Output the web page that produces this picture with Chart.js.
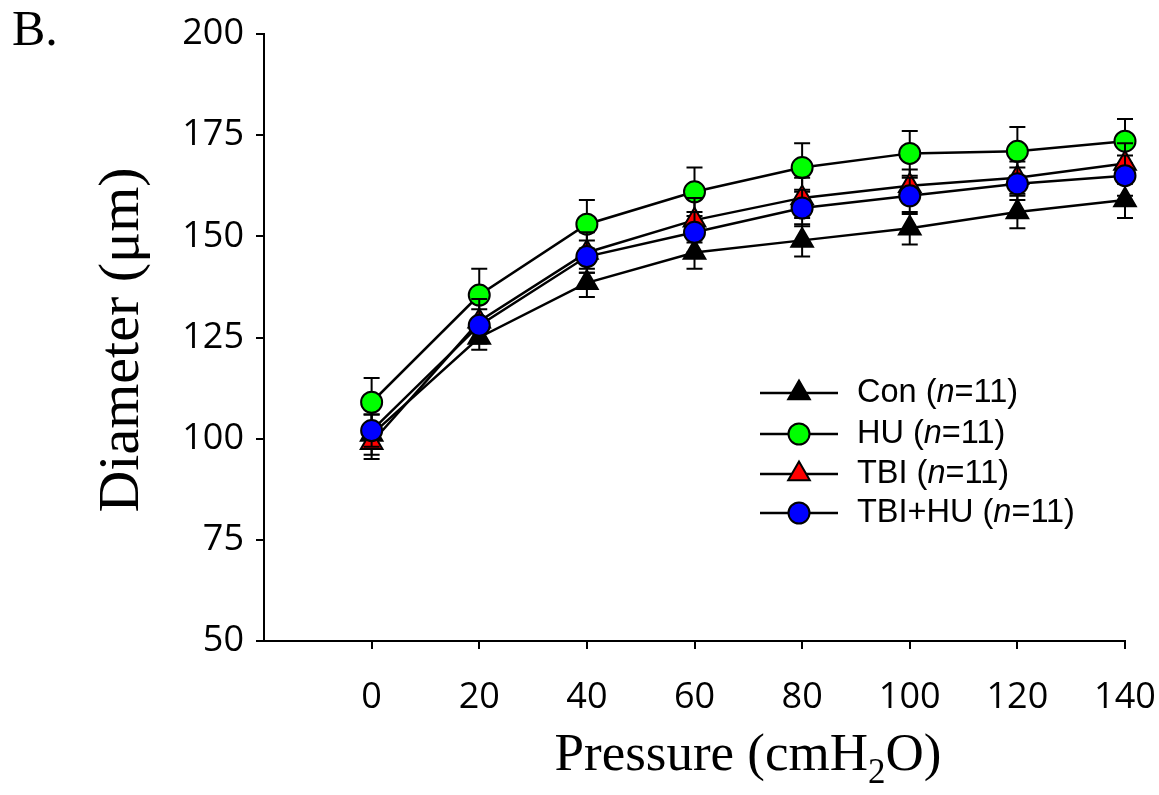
<!DOCTYPE html>
<html><head><meta charset="utf-8">
<script src="https://cdn.jsdelivr.net/npm/chart.js@4"></script>
<style>html,body{margin:0;padding:0;background:#fff;}</style>
</head><body>
<canvas id="c" width="1159" height="795"></canvas>
<script>
// ---- data ----
const pressure = [0, 20, 40, 60, 80, 100, 120, 140];
const conMean   = [101, 125, 138.5, 146, 149, 152, 156, 159];
const conErr    = [5, 3, 3.5, 4, 4, 4, 4, 4.5];
const huMean    = [109, 135.5, 153, 161, 167, 170.5, 171, 173.5];
const huErr     = [6, 6.5, 6, 6, 6, 5.5, 6, 5.5];
const tbiMean   = [99, 129, 146, 154, 159.5, 162.5, 164.5, 168];
const tbiErr    = [4, 5.5, 5, 5.5, 5, 4, 4, 5];
const tbihuMean = [102, 128, 145, 151, 157, 160, 163, 165];
const tbihuErr  = [4, 4, 4, 5, 4.5, 4.5, 4, 5];
const seriesNames = ['Con', 'HU', 'TBI', 'TBI+HU'];
const nValues = [11, 11, 11, 11];
const xTickValues = [0, 20, 40, 60, 80, 100, 120, 140];
const yTickValues = [50, 75, 100, 125, 150, 175, 200];

const means = [conMean, huMean, tbiMean, tbihuMean];
const errs = [conErr, huErr, tbiErr, tbihuErr];
const fills = ['#000000', '#00ff00', '#ff0000', '#0000ff'];
const styles = ['triangle', 'circle', 'triangle', 'circle'];
const radii = [12.5, 10.5, 12.5, 10.5];

const datasets = seriesNames.map((name, i) => ({
  label: name,
  data: pressure.map((p, j) => ({ x: p, y: means[i][j] })),
  borderColor: '#000',
  borderWidth: 2.5,
  pointStyle: styles[i],
  pointRadius: radii[i],
  pointHoverRadius: radii[i],
  pointBackgroundColor: fills[i],
  pointBorderColor: '#000',
  pointBorderWidth: 2,
  fill: false,
  tension: 0,
  clip: false,
  order: seriesNames.length - 1 - i
}));

const errPlugin = {
  id: 'errbars',
  beforeDatasetDraw(chart, args) {
    const i = args.index;
    const xs = chart.scales.x, ys = chart.scales.y, ctx = chart.ctx;
    ctx.save();
    ctx.strokeStyle = '#000'; ctx.lineWidth = 2;
    means[i].forEach((v, j) => {
      const px = xs.getPixelForValue(pressure[j]);
      const t = ys.getPixelForValue(v + errs[i][j]);
      const b = ys.getPixelForValue(v - errs[i][j]);
      ctx.beginPath();
      ctx.moveTo(px, t); ctx.lineTo(px, b);
      ctx.moveTo(px - 8, t); ctx.lineTo(px + 8, t);
      ctx.moveTo(px - 8, b); ctx.lineTo(px + 8, b);
      ctx.stroke();
    });
    ctx.restore();
  }
};

const decorPlugin = {
  id: 'decor',
  afterDraw(chart) {
    const ctx = chart.ctx;
    ctx.save();
    ctx.fillStyle = '#000';
    // panel letter
    ctx.font = '50px "Liberation Serif", "Times New Roman", serif';
    ctx.textBaseline = 'alphabetic'; ctx.textAlign = 'left';
    ctx.fillText('B.', 12, 45);
    // x title with subscript
    const big = '53px "Liberation Serif", "Times New Roman", serif';
    const small = '35px "Liberation Serif", "Times New Roman", serif';
    const a = 'Pressure (cmH', s = '2', c = 'O)';
    ctx.font = big; const wa = ctx.measureText(a).width, wc = ctx.measureText(c).width;
    ctx.font = small; const ws = ctx.measureText(s).width;
    const cx = 748;
    let x0 = cx - (wa + ws + wc) / 2;
    const base = 770;
    ctx.font = big; ctx.fillText(a, x0, base);
    ctx.font = small; ctx.fillText(s, x0 + wa, base + 13);
    ctx.font = big; ctx.fillText(c, x0 + wa + ws, base);
    // y title
    ctx.save();
    ctx.translate(138, 340);
    ctx.rotate(-Math.PI / 2);
    ctx.font = '58px "Liberation Serif", "Times New Roman", serif'; ctx.textAlign = 'center';
    ctx.fillText('Diameter (\u03bcm)', 0, 0);
    ctx.restore();
    // legend
    const lx0 = 760, lx1 = 838, mx = 799, tx = 857;
    const rowY = [393, 434, 474, 513];
    seriesNames.forEach((name, i) => {
      const y = rowY[i];
      ctx.strokeStyle = '#000'; ctx.lineWidth = 2.5;
      ctx.beginPath(); ctx.moveTo(lx0, y); ctx.lineTo(lx1, y); ctx.stroke();
      ctx.fillStyle = fills[i]; ctx.strokeStyle = '#000'; ctx.lineWidth = 2;
      Chart.helpers.drawPoint(ctx, { pointStyle: styles[i], radius: radii[i], rotation: 0, borderWidth: 2 }, mx, y);
      ctx.fillStyle = '#000';
      ctx.textAlign = 'left'; ctx.textBaseline = 'middle';
      const reg = '32.5px "Liberation Sans", Arial, sans-serif';
      const ital = 'italic 32.5px "Liberation Sans", Arial, sans-serif';
      let x = tx;
      const parts = [[name + ' (', reg], ['n', ital], ['=' + nValues[i] + ')', reg]];
      parts.forEach(([t, f]) => { ctx.font = f; ctx.fillText(t, x, y); x += ctx.measureText(t).width; });
    });
    ctx.restore();
  }
};

const tickFont = { family: '"Open Sans", sans-serif', size: 36 };

new Chart(document.getElementById('c'), {
  type: 'line',
  data: { datasets },
  options: {
    responsive: false,
    animation: false,
    devicePixelRatio: 1,
    layout: { padding: { left: 0, right: 34, top: 34, bottom: 0 } },
    plugins: { legend: { display: false }, tooltip: { enabled: false } },
    scales: {
      x: {
        type: 'linear', min: -20, max: 140,
        afterBuildTicks: s => { s.ticks = xTickValues.map(v => ({ value: v })); },
        afterFit: s => { s.height = 154; s.paddingLeft = 0; s.paddingRight = 0; },
        ticks: { font: tickFont, color: '#000', padding: 27, maxRotation: 0, autoSkip: false },
        grid: { display: true, drawOnChartArea: false, drawTicks: true, tickLength: 8, color: '#000', lineWidth: 2 },
        border: { display: true, color: '#000', width: 2 }
      },
      y: {
        type: 'linear', min: 50, max: 200,
        afterBuildTicks: s => { s.ticks = yTickValues.map(v => ({ value: v })); },
        afterFit: s => { s.width = 264; s.paddingTop = 0; s.paddingBottom = 0; },
        ticks: { font: tickFont, color: '#000', padding: 12, autoSkip: false },
        grid: { display: true, drawOnChartArea: false, drawTicks: true, tickLength: 8, color: '#000', lineWidth: 2 },
        border: { display: true, color: '#000', width: 2 }
      }
    }
  },
  plugins: [errPlugin, decorPlugin]
});
</script>
</body></html>
